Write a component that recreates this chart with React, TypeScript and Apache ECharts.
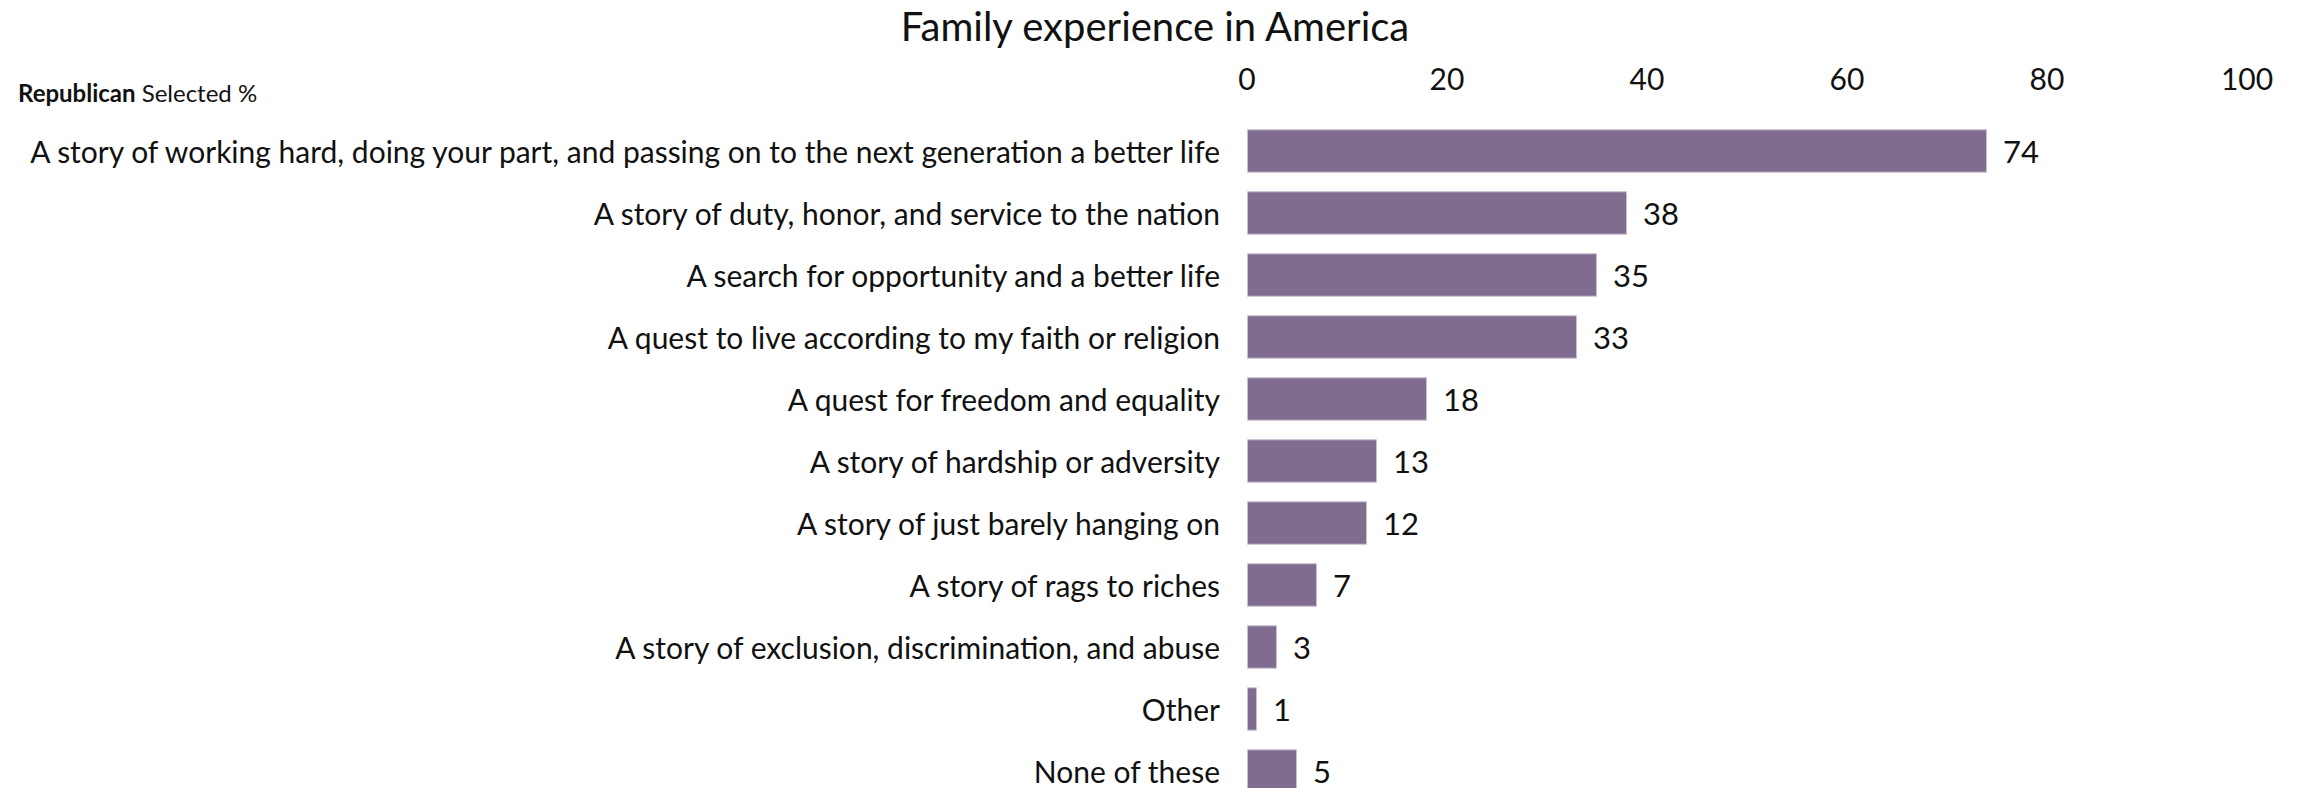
import React, { useEffect, useRef } from "react";
import * as echarts from "echarts";

const categories = [
  "A story of working hard, doing your part, and passing on to the next generation a better life",
  "A story of duty, honor, and service to the nation",
  "A search for opportunity and a better life",
  "A quest to live according to my faith or religion",
  "A quest for freedom and equality",
  "A story of hardship or adversity",
  "A story of just barely hanging on",
  "A story of rags to riches",
  "A story of exclusion, discrimination, and abuse",
  "Other",
  "None of these",
];
const values = [74, 38, 35, 33, 18, 13, 12, 7, 3, 1, 5];
const titleText = "Family experience in America";
const FONT = "Lato, 'Noto Sans', sans-serif";

export default function App() {
  const ref = useRef<HTMLDivElement>(null);
  useEffect(() => {
    const chart = echarts.init(ref.current!, null, { renderer: "svg" });
    chart.setOption({
      animation: false,
      title: {
        text: titleText,
        left: 1150,
        textAlign: "center",
        top: 1,
        textStyle: { fontFamily: FONT, fontSize: 40, fontWeight: "normal", color: "#111" },
      },
      graphic: [
        {
          type: "text",
          left: 18,
          top: 80,
          style: {
            text: "{b|Republican} Selected %",
            rich: {
              b: { fontWeight: "bold", fontSize: 24, fontFamily: FONT, fill: "#111" },
            },
            fontSize: 24,
            fontFamily: FONT,
            fill: "#111",
          },
        },
      ],
      grid: {
        left: 1247,
        width: 1000,
        top: 120,
        height: 682,
        containLabel: false,
        outerBoundsMode: "none",
      },
      xAxis: {
        type: "value",
        position: "top",
        min: 0,
        max: 100,
        interval: 20,
        axisLine: { show: false },
        axisTick: { show: false },
        splitLine: { show: false },
        axisLabel: { fontFamily: FONT, fontSize: 30, color: "#111", margin: 27 },
      },
      yAxis: {
        type: "category",
        inverse: true,
        data: categories,
        axisLine: { show: false },
        axisTick: { show: false },
        axisLabel: { fontFamily: FONT, fontSize: 30, color: "#111", margin: 27 },
      },
      series: [
        {
          type: "bar",
          data: values,
          barCategoryGap: "30%",
          itemStyle: { color: "#7f6c8e", borderColor: "#c8bfd2", borderWidth: 1 },
          label: {
            show: true,
            position: "right",
            distance: 16,
            fontFamily: FONT,
            fontSize: 31,
            color: "#111",
          },
        },
      ],
    });
    return () => chart.dispose();
  }, []);
  return <div ref={ref} style={{ width: 2305, height: 788, position: "absolute", left: 0, top: 0 }} />;
}
